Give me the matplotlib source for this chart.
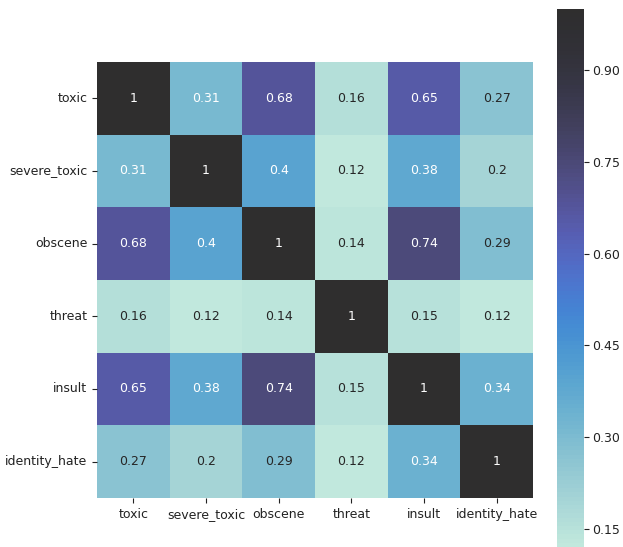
import numpy as np
import pandas as pd
import matplotlib
matplotlib.use('Agg')
import matplotlib.pyplot as plt
import seaborn as sns

labels = ['toxic', 'severe_toxic', 'obscene', 'threat', 'insult', 'identity_hate']
toxic = [1.0, 0.31, 0.68, 0.16, 0.65, 0.27]
severe_toxic = [0.31, 1.0, 0.40, 0.12, 0.38, 0.20]
obscene = [0.68, 0.40, 1.0, 0.14, 0.74, 0.29]
threat = [0.16, 0.12, 0.14, 1.0, 0.15, 0.123]
insult = [0.65, 0.38, 0.74, 0.15, 1.0, 0.34]
identity_hate = [0.27, 0.20, 0.29, 0.123, 0.34, 1.0]

corr = pd.DataFrame([toxic, severe_toxic, obscene, threat, insult, identity_hate],
                    index=labels, columns=labels)

fig = plt.figure(figsize=(6.23, 5.47), dpi=100)
W, H = 623, 547
ax = fig.add_axes([97/W, 1 - 498/H, 436/W, 436/H])
cax = fig.add_axes([557/W, 0/H, 27/W, 538/H])

sns.heatmap(corr, ax=ax, cbar_ax=cax, vmax=1.0, center=1, cmap='icefire',
            annot=True, square=False, alpha=0.93, annot_kws={'fontsize': 9})
ax.set_xlim(0, 6); ax.set_ylim(6, 0)
ax.tick_params(labelsize=9, colors='#222222')
plt.setp(ax.get_yticklabels(), rotation=0)
plt.setp(ax.get_xticklabels(), rotation=0)
cax.set_yticks([0.15, 0.30, 0.45, 0.60, 0.75, 0.90])
cax.set_yticklabels(['0.15', '0.30', '0.45', '0.60', '0.75', '0.90'])
cax.tick_params(labelsize=9, colors='#222222', length=3.5, pad=2.5)
for c in cax.collections:
    c.set_alpha(0.93)
fig.savefig('out.png', dpi=100)
